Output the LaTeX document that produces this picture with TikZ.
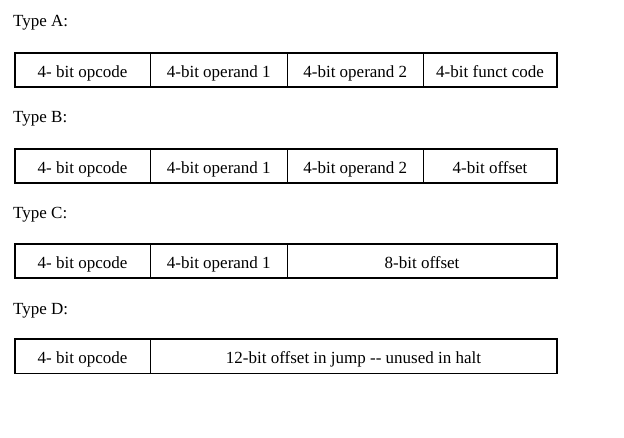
\documentclass[tikz,border=0pt]{standalone}
\usepackage{fontspec}
\setmainfont{Liberation Serif}
\begin{document}
\begin{tikzpicture}[x=1pt,y=-1pt,
  field/.style={draw=black,line width=1.6pt,minimum height=34pt,inner sep=0pt,
    text height=17pt,text depth=2pt,anchor=north west,font=\fontsize{17}{19}\selectfont},
  typelabel/.style={anchor=base west,inner sep=0pt,font=\fontsize{17}{19}\selectfont}]
\useasboundingbox (0,0) rectangle (624,438);
% Type A
\node[typelabel] (la) at (13,27) {Type A:};
\node[field,minimum width=135.5pt] (a1) at (14,52) {4- bit opcode};
\node[field,minimum width=137pt] (a2) at (149.5,52) {4-bit operand 1};
\node[field,minimum width=136pt] (a3) at (286.5,52) {4-bit operand 2};
\node[field,minimum width=133.5pt] (a4) at (422.5,52) {4-bit funct code};
% Type B
\node[typelabel] (lb) at (13,123) {Type B:};
\node[field,minimum width=135.5pt] (b1) at (14,148) {4- bit opcode};
\node[field,minimum width=137pt] (b2) at (149.5,148) {4-bit operand 1};
\node[field,minimum width=136pt] (b3) at (286.5,148) {4-bit operand 2};
\node[field,minimum width=133.5pt] (b4) at (422.5,148) {4-bit offset};
% Type C
\node[typelabel] (lc) at (13,219) {Type C:};
\node[field,minimum width=135.5pt] (c1) at (14,243.5) {4- bit opcode};
\node[field,minimum width=137pt] (c2) at (149.5,243.5) {4-bit operand 1};
\node[field,minimum width=269.5pt] (c3) at (286.5,243.5) {8-bit offset};
% Type D
\node[typelabel] (ld) at (13,315) {Type D:};
\node[field,minimum width=135.5pt] (d1) at (14,338.5) {4- bit opcode};
\node[field,minimum width=406.5pt] (d2) at (149.5,338.5) {12-bit offset in jump -{}- unused in halt};
\end{tikzpicture}
\end{document}
